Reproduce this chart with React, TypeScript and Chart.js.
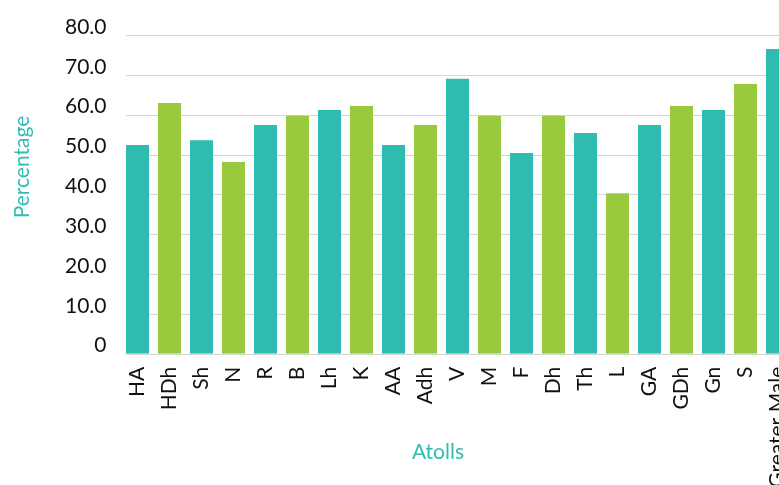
import React, { useEffect, useRef } from "react";
import { Chart, registerables } from "chart.js";

Chart.register(...registerables);

const categories = ["HA", "HDh", "Sh", "N", "R", "B", "Lh", "K", "AA", "Adh", "V", "M", "F", "Dh", "Th", "L", "GA", "GDh", "Gn", "S", "Greater Male"];
const percentages = [52.4, 62.9, 53.6, 48.1, 57.4, 59.7, 61.2, 62.2, 52.4, 57.4, 69.0, 59.7, 50.4, 59.7, 55.4, 40.3, 57.4, 62.2, 61.2, 67.7, 76.5];
const barColors = ["#2fbdb1", "#99c93c"];
const yTicks = [0, 10, 20, 30, 40, 50, 60, 70, 80];
const xTitle = "Atolls";
const yTitle = "Percentage";

const TEAL = "#2fbdb1";
const GRID = "#d6d6d6";

const gridPlugin = {
  id: "customGrid",
  beforeDatasetsDraw(chart: any) {
    const { ctx, chartArea, scales } = chart;
    const meta = chart.getDatasetMeta(0);
    const first = meta.data[0] as any;
    const startX = first ? first.x - first.width / 2 : chartArea.left;
    ctx.save();
    ctx.strokeStyle = GRID;
    ctx.lineWidth = 1;
    yTicks.forEach((v) => {
      const y = Math.round(scales.y.getPixelForValue(v)) + 0.5;
      ctx.beginPath();
      ctx.moveTo(startX, y);
      ctx.lineTo(chart.width, y);
      ctx.stroke();
    });
    ctx.restore();
  },
};

const titlePlugin = {
  id: "axisTitles",
  afterDraw(chart: any) {
    const { ctx } = chart;
    ctx.save();
    ctx.fillStyle = TEAL;
    ctx.font = "21px Lato";
    ctx.textAlign = "center";
    ctx.textBaseline = "middle";
    ctx.fillText(xTitle, 438, 452);
    ctx.translate(22, 167);
    ctx.rotate(-Math.PI / 2);
    ctx.fillText(yTitle, 0, 0);
    ctx.restore();
  },
};

export default function App() {
  const ref = useRef<HTMLCanvasElement>(null);

  useEffect(() => {
    if (!ref.current) return;
    const chart = new Chart(ref.current, {
      type: "bar",
      data: {
        labels: categories,
        datasets: [
          {
            data: percentages,
            backgroundColor: percentages.map((_, i) => barColors[i % 2]),
            borderWidth: 0,
            barPercentage: 0.72,
            categoryPercentage: 1,
          },
        ],
      },
      options: {
        responsive: false,
        animation: false,
        layout: { padding: { left: 0, top: 35, right: 6.5, bottom: 0 } },
        plugins: {
          legend: { display: false },
          tooltip: { enabled: false },
        },
        scales: {
          x: {
            offset: true,
            grid: { display: false, drawTicks: false },
            border: { display: false },
            ticks: {
              autoSkip: false,
              maxRotation: 90,
              minRotation: 90,
              padding: 13,
              color: "#111111",
              font: { family: "Lato", size: 21 },
            },
            afterFit: (scale: any) => {
              scale.height = 131.3;
              scale.paddingLeft = 0;
              scale.paddingRight = 0;
            },
          },
          y: {
            min: 0,
            max: 80,
            grid: { display: false, drawTicks: false },
            border: { display: false },
            ticks: {
              stepSize: 10,
              padding: 15,
              labelOffset: -8,
              color: "#111111",
              font: { family: "Lato", size: 21 },
              callback: (v: any) => (Number(v) === 0 ? "0" : Number(v).toFixed(1)),
            },
            afterFit: (scale: any) => {
              scale.width = 121.5;
              scale.paddingTop = 0;
              scale.paddingBottom = 0;
            },
          },
        },
      },
      plugins: [gridPlugin, titlePlugin],
    });
    return () => chart.destroy();
  }, []);

  return (
    <div style={{ position: "fixed", left: 0, top: 0, width: 779, height: 485, overflow: "hidden", background: "#fff" }}>
      <canvas ref={ref} width={800} height={485} style={{ display: "block" }} />
    </div>
  );
}
